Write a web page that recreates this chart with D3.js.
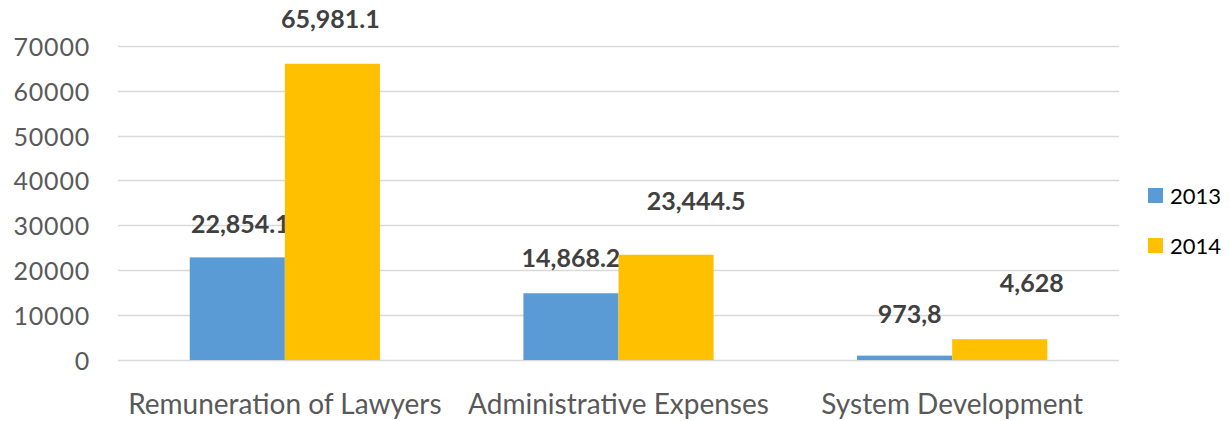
<!DOCTYPE html>
<html>
<head>
<meta charset="utf-8">
<script src="https://cdn.jsdelivr.net/npm/d3@7"></script>
<style>
  body { margin: 0; background: #fff; }
  svg { display: block; }
</style>
</head>
<body>
<svg width="1230" height="421"></svg>
<script>
// Data
const categories = ["Remuneration of Lawyers", "Administrative Expenses", "System Development"];
const years = ["2013", "2014"];
const values2013 = [22854.1, 14868.2, 973.8];
const values2014 = [65981.1, 23444.5, 4628];
const labels2013 = ["22,854.1", "14,868.2", "973,8"];
const labels2014 = ["65,981.1", "23,444.5", "4,628"];
const yTicks = [0, 10000, 20000, 30000, 40000, 50000, 60000, 70000];

const colors = ["#5B9BD5", "#FFC000"];

// label nudges (dx, gap above bar) as placed in the original
const nudge2013 = [[3, 24], [0, 26], [5, 33]];
const nudge2014 = [[-2, 36], [30, 45], [32, 47]];

const svg = d3.select("svg");

const x = d3.scaleBand()
    .domain(categories)
    .range([118, 1119])
    .paddingInner(0.43)
    .paddingOuter(0.215);

const x1 = d3.scaleBand()
    .domain(years)
    .range([0, x.bandwidth()]);

const y = d3.scaleLinear()
    .domain([0, 70000])
    .range([360, 45.7]);

// Gridlines
svg.selectAll(".grid")
    .data(yTicks)
    .enter().append("line")
    .attr("x1", 118)
    .attr("x2", 1119)
    .attr("y1", d => Math.round(y(d)) + 0.5)
    .attr("y2", d => Math.round(y(d)) + 0.5)
    .attr("stroke", "#d9d9d9")
    .attr("stroke-width", 1.3);

// Y axis
const yAxis = svg.append("g")
    .attr("transform", "translate(90,0)")
    .call(d3.axisLeft(y).tickValues(yTicks).tickSize(0).tickPadding(0).tickFormat(d3.format("d")));
yAxis.select(".domain").remove();
yAxis.selectAll("text")
    .attr("fill", "#595959")
    .attr("dy", "0.38em")
    .style("font-family", "Lato")
    .style("font-size", "25px")
    .style("letter-spacing", "0.8px");

// X axis labels
const xAxis = svg.append("g")
    .attr("transform", "translate(0,360)")
    .call(d3.axisBottom(x).tickSize(0).tickPadding(0));
xAxis.select(".domain").remove();
xAxis.selectAll("text")
    .attr("fill", "#595959")
    .attr("y", 54)
    .attr("dy", 0)
    .style("font-family", "Lato")
    .style("font-size", "28px");

// Bars and labels, series by series so a later bar covers an earlier label
const series = [
    { key: "2013", values: values2013, labels: labels2013, nudge: nudge2013 },
    { key: "2014", values: values2014, labels: labels2014, nudge: nudge2014 }
];

series.forEach(function(s, si) {
    svg.selectAll(".bar" + si)
        .data(categories)
        .enter().append("rect")
        .attr("x", d => x(d) + x1(s.key))
        .attr("width", x1.bandwidth())
        .attr("y", (d, i) => y(s.values[i]))
        .attr("height", (d, i) => y(0) - y(s.values[i]))
        .attr("fill", colors[si]);

    svg.selectAll(".label" + si)
        .data(categories)
        .enter().append("text")
        .attr("x", (d, i) => x(d) + x1(s.key) + x1.bandwidth() / 2 + s.nudge[i][0])
        .attr("y", (d, i) => y(s.values[i]) - s.nudge[i][1])
        .attr("text-anchor", "middle")
        .attr("fill", "#404040")
        .style("font-family", "Lato")
        .style("font-weight", "bold")
        .style("font-size", "25px")
        .text((d, i) => s.labels[i]);
});

// Legend
const legend = svg.selectAll(".legend")
    .data(years)
    .enter().append("g")
    .attr("transform", (d, i) => "translate(1148," + (188 + i * 50) + ")");

legend.append("rect")
    .attr("width", 15)
    .attr("height", 15)
    .attr("fill", (d, i) => colors[i]);

legend.append("text")
    .attr("x", 22)
    .attr("y", 16)
    .attr("fill", "#000")
    .style("font-family", "Lato")
    .style("font-size", "22px")
    .text(d => d);
</script>
</body>
</html>
